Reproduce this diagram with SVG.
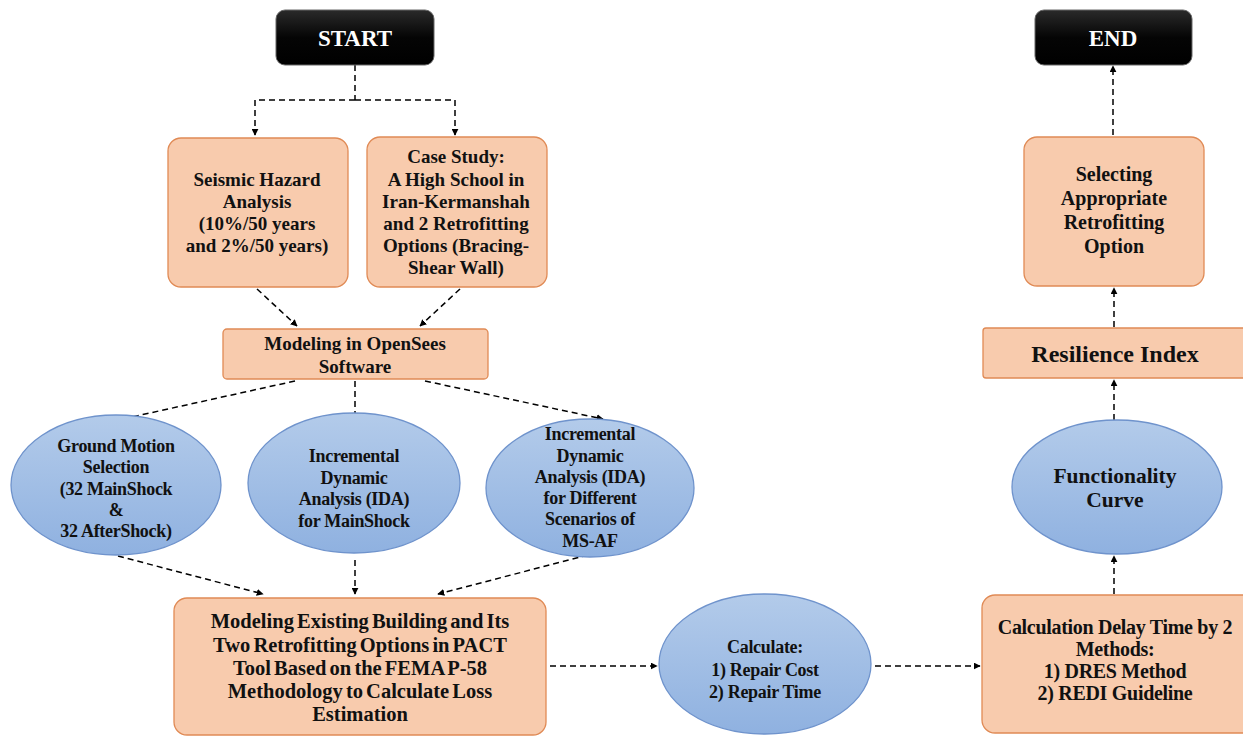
<svg xmlns="http://www.w3.org/2000/svg" width="1243" height="736" viewBox="0 0 1243 736">
<style>
.box{fill:#f8cbad;stroke:#e08a55;stroke-width:1.3}
.ell{fill:url(#blueGrad);stroke:#6f93cc;stroke-width:1.3}
.term{fill:url(#blackGrad);stroke:#666;stroke-width:1}
.t{font-family:"Liberation Serif","Times New Roman",serif;font-weight:bold;font-size:19px;fill:#111;text-anchor:middle}
.te{font-family:"Liberation Serif","Times New Roman",serif;font-weight:bold;font-size:18px;fill:#111;text-anchor:middle;letter-spacing:-0.3px}
.tw{font-family:"Liberation Serif","Times New Roman",serif;font-weight:bold;font-size:23px;fill:#fff;text-anchor:middle}
.c{fill:none;stroke:#000;stroke-width:1.5;stroke-dasharray:6,4;marker-end:url(#arr)}
.cn{fill:none;stroke:#000;stroke-width:1.5;stroke-dasharray:6,4}
</style>
<defs>
<linearGradient id="blueGrad" x1="0" y1="0" x2="0" y2="1">
<stop offset="0" stop-color="#b3cbea"/>
<stop offset="1" stop-color="#8fb1e0"/>
</linearGradient>
<linearGradient id="blackGrad" x1="0" y1="0" x2="0" y2="1">
<stop offset="0" stop-color="#2a2a2a"/>
<stop offset="0.5" stop-color="#050505"/>
<stop offset="1" stop-color="#000"/>
</linearGradient>
<marker id="arr" viewBox="0 0 10 10" refX="9" refY="5" markerWidth="7" markerHeight="7" markerUnits="userSpaceOnUse" orient="auto">
<path d="M0,0 L10,5 L0,10 Z" fill="#000"/>
</marker>
</defs>

<g id="connectors">
<path class="cn" d="M355,65 V100"/>
<path class="c" d="M355,100 H255 V135"/>
<path class="c" d="M355,100 H455 V135"/>
<path class="c" d="M257,289 L297,326"/>
<path class="c" d="M460,289 L420,326"/>
<path class="c" d="M295,381 L118,420"/>
<path class="c" d="M355,381 V419"/>
<path class="c" d="M425,381 L603,419"/>
<path class="c" d="M118,556 L263,594"/>
<path class="c" d="M355,560 V594"/>
<path class="c" d="M588,555 L438,594"/>
<path class="c" d="M550,666 H657"/>
<path class="c" d="M875,666 H980"/>
<path class="c" d="M1114,594 V556"/>
<path class="c" d="M1114,420 V380"/>
<path class="c" d="M1114,327 V288"/>
<path class="c" d="M1113,135 V66"/>
</g>

<g id="start">
<rect class="term" x="276" y="10" width="158" height="55" rx="9"/>
<text class="tw" x="355" y="46">START</text>
</g>

<g id="end">
<rect class="term" x="1035" y="10" width="157" height="55" rx="9"/>
<text class="tw" x="1113" y="46">END</text>
</g>

<g id="seismic">
<rect class="box" x="168" y="138" width="180" height="149" rx="13"/>
<text class="t" x="257" y="186">Seismic Hazard</text>
<text class="t" x="257" y="208">Analysis</text>
<text class="t" x="257" y="230">(10%/50 years</text>
<text class="t" x="257" y="252">and 2%/50 years)</text>
</g>

<g id="casestudy">
<rect class="box" x="367" y="137" width="180" height="150" rx="13"/>
<text class="t" x="456" y="163">Case Study:</text>
<text class="t" x="456" y="186">A High School in</text>
<text class="t" x="456" y="208">Iran-Kermanshah</text>
<text class="t" x="456" y="230">and 2 Retrofitting</text>
<text class="t" x="456" y="252">Options (Bracing-</text>
<text class="t" x="456" y="274">Shear Wall)</text>
</g>

<g id="opensees">
<rect class="box" x="223" y="329" width="265" height="50" rx="4"/>
<text class="t" x="355" y="350">Modeling in  OpenSees</text>
<text class="t" x="355" y="373">Software</text>
</g>

<g id="groundmotion">
<ellipse class="ell" cx="116" cy="485" rx="105" ry="70"/>
<text class="te" x="116" y="452">Ground Motion</text>
<text class="te" x="116" y="473">Selection</text>
<text class="te" x="116" y="495">(32 MainShock</text>
<text class="te" x="116" y="516">&amp;</text>
<text class="te" x="116" y="537">32 AfterShock)</text>
</g>

<g id="idamain">
<ellipse class="ell" cx="354" cy="483" rx="106" ry="70"/>
<text class="te" x="354" y="462">Incremental</text>
<text class="te" x="354" y="484">Dynamic</text>
<text class="te" x="354" y="505">Analysis (IDA)</text>
<text class="te" x="354" y="527">for MainShock</text>
</g>

<g id="idadiff">
<ellipse class="ell" cx="590" cy="488" rx="104" ry="69"/>
<text class="te" x="590" y="440">Incremental</text>
<text class="te" x="590" y="462">Dynamic</text>
<text class="te" x="590" y="483">Analysis (IDA)</text>
<text class="te" x="590" y="504">for Different</text>
<text class="te" x="590" y="525">Scenarios of</text>
<text class="te" x="590" y="547">MS-AF</text>
</g>

<g id="pact">
<rect class="box" x="174" y="598" width="372" height="137" rx="13"/>
<text class="t" x="360" y="628" style="font-size:20.5px;word-spacing:-2px">Modeling Existing Building and Its</text>
<text class="t" x="360" y="652" style="font-size:20.5px;word-spacing:-2px">Two Retrofitting Options in PACT</text>
<text class="t" x="360" y="675" style="font-size:20.5px;word-spacing:-2px">Tool Based on the FEMA  P-58</text>
<text class="t" x="360" y="698" style="font-size:20.5px;word-spacing:-2px">Methodology to Calculate Loss</text>
<text class="t" x="360" y="721" style="font-size:20.5px;word-spacing:-2px">Estimation</text>
</g>

<g id="calculate">
<ellipse class="ell" cx="765" cy="664" rx="106" ry="70"/>
<text class="te" x="765" y="653">Calculate:</text>
<text class="te" x="765" y="676">1) Repair Cost</text>
<text class="te" x="765" y="698">2) Repair Time</text>
</g>

<g id="delay">
<rect class="box" x="982" y="595" width="275" height="138" rx="13"/>
<text class="te" x="1115" y="634" style="font-size:20px">Calculation Delay Time by 2</text>
<text class="te" x="1115" y="656" style="font-size:20px">Methods:</text>
<text class="te" x="1115" y="678" style="font-size:20px">1) DRES Method</text>
<text class="te" x="1115" y="700" style="font-size:20px">2) REDI Guideline</text>
</g>

<g id="functionality">
<ellipse class="ell" cx="1117" cy="487" rx="105" ry="67"/>
<text class="t" x="1115" y="483" style="font-size:21.5px">Functionality</text>
<text class="t" x="1115" y="507" style="font-size:21.5px">Curve</text>
</g>

<g id="resilience">
<rect class="box" x="983" y="328" width="275" height="50" rx="3"/>
<text class="t" x="1115" y="362" style="font-size:24px">Resilience Index</text>
</g>

<g id="selecting">
<rect class="box" x="1024" y="137" width="180" height="149" rx="13"/>
<text class="t" x="1114" y="181" style="font-size:20px">Selecting</text>
<text class="t" x="1114" y="205" style="font-size:20px">Appropriate</text>
<text class="t" x="1114" y="229" style="font-size:20px">Retrofitting</text>
<text class="t" x="1114" y="253" style="font-size:20px">Option</text>
</g>
</svg>
